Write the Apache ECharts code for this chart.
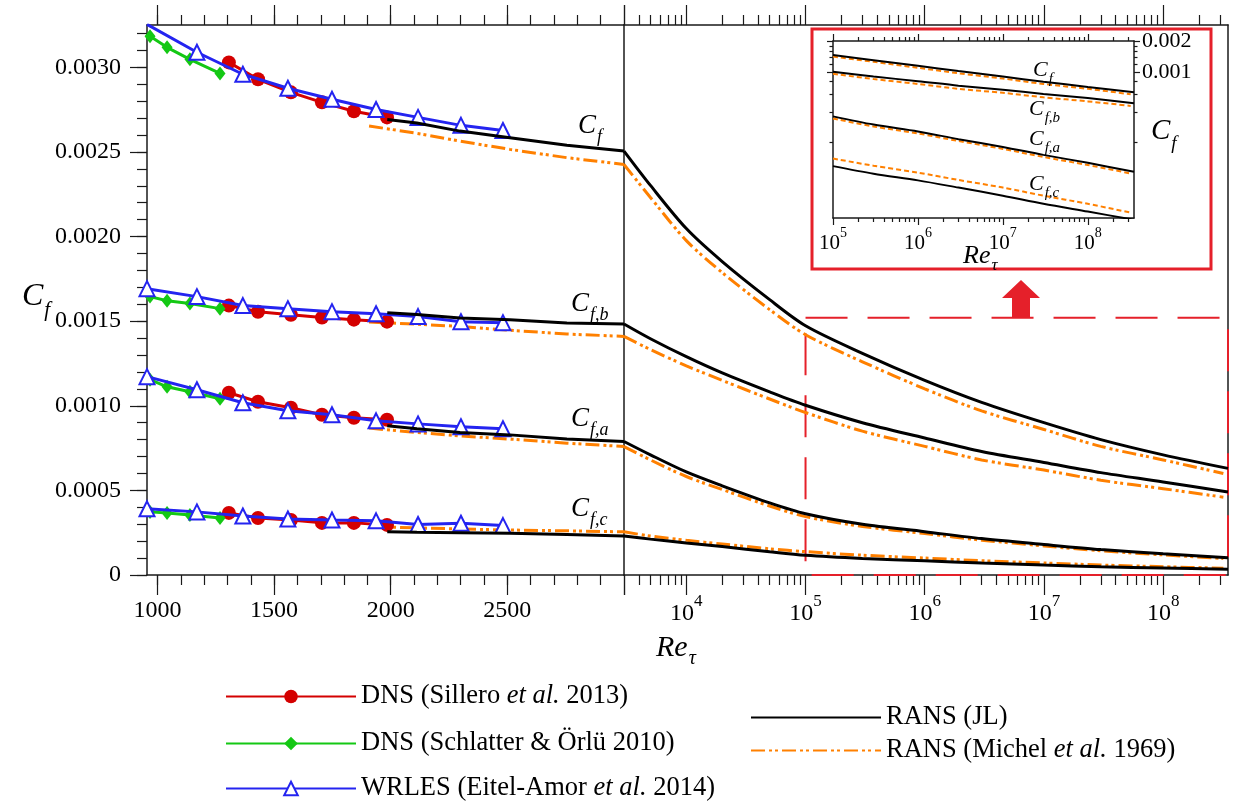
<!DOCTYPE html>
<html><head><meta charset="utf-8">
<script src="https://cdn.jsdelivr.net/npm/echarts@6/dist/echarts.min.js"></script>
<style>html,body{margin:0;padding:0;background:#fff}#c{width:1236px;height:801px}</style>
</head><body><div id="c"></div>
<script>
// ---------------- DATA ----------------
// DNS Sillero et al. 2013
const reSillero = [1306, 1431, 1572, 1705, 1842, 1984];
const sillCf  = [0.003029, 0.002929, 0.002852, 0.002793, 0.002740, 0.002704];
const sillCfb = [0.001592, 0.001556, 0.001538, 0.001521, 0.001509, 0.001497];
const sillCfa = [0.001077, 0.001024, 0.000988, 0.000947, 0.000929, 0.000917];
const sillCfc = [0.000367, 0.000337, 0.000325, 0.000308, 0.000308, 0.000296];
// DNS Schlatter & Örlü 2010
const reSchlatter = [968, 1041, 1139, 1268];
const schCf  = [0.003183, 0.003118, 0.003047, 0.002964];
const schCfb = [0.001645, 0.001621, 0.001604, 0.001574];
const schCfa = [0.001154, 0.001112, 0.001083, 0.001041];
const schCfc = [0.000373, 0.000367, 0.000355, 0.000337];
// WRLES Eitel-Amor et al. 2014
const reEitel = [955, 1169, 1366, 1559, 1748, 1937, 2117, 2301, 2481];
const eitCf  = [0.003254, 0.003089, 0.002959, 0.002876, 0.002811, 0.002751, 0.002704, 0.002657, 0.002627];
const eitCfb = [0.001692, 0.001645, 0.001592, 0.001574, 0.001556, 0.001544, 0.001527, 0.001497, 0.001491];
const eitCfa = [0.001172, 0.001095, 0.001018, 0.000970, 0.000947, 0.000911, 0.000893, 0.000876, 0.000864];
const eitCfc = [0.000391, 0.000373, 0.000349, 0.000331, 0.000325, 0.000320, 0.000298, 0.000306, 0.000292];
// RANS (JL), linear part
const reJLLeft = [1985, 2112, 2297, 2511, 2755, 3000];
const jlCfL  = [0.002691, 0.002671, 0.002623, 0.002584, 0.002540, 0.002505];
const jlCfbL = [0.001549, 0.001540, 0.001519, 0.001509, 0.001489, 0.001483];
const jlCfaL = [0.000882, 0.000864, 0.000842, 0.000828, 0.000803, 0.000789];
const jlCfcL = [0.000256, 0.000253, 0.000250, 0.000247, 0.000240, 0.000231];
// RANS (Michel et al. 1969), linear part
const reMiLeft = [1907, 2112, 2297, 2511, 2755, 3000];
const miCfL  = [0.002653, 0.002610, 0.002564, 0.002515, 0.002466, 0.002426];
const miCfbL = [0.001495, 0.001482, 0.001469, 0.001446, 0.001424, 0.001410];
const miCfaL = [0.000868, 0.000842, 0.000822, 0.000803, 0.000779, 0.000759];
const miCfcL = [0.000286, 0.000278, 0.000272, 0.000266, 0.000261, 0.000255];
// RANS (JL), log part
const reJLRight = [3000, 5000, 1e4, 2e4, 5e4, 1e5, 3e5, 1e6, 3e6, 1e7, 3e7, 1e8, 3.5e8];
const jlCfR  = [0.002505, 0.002302, 0.002047, 0.001852, 0.001627, 0.001473, 0.00131, 0.00115, 0.00102, 0.00090, 0.00080, 0.00071, 0.00063];
const jlCfbR = [0.001483, 0.001396, 0.00129, 0.001194, 0.001082, 0.001003, 0.00090, 0.00081, 0.00073, 0.000665, 0.000605, 0.00055, 0.00049];
const jlCfaR = [0.000789, 0.00071, 0.000609, 0.000527, 0.000426, 0.000362, 0.000300, 0.000256, 0.000215, 0.000180, 0.000150, 0.000125, 0.000102];
const jlCfcR = [0.000231, 0.000212, 0.000189, 0.000168, 0.000137, 0.000116, 0.0000975, 0.0000837, 0.000071, 0.000059, 0.000049, 0.000041, 0.000034];
// RANS (Michel et al. 1969), log part
const reMiRight = [3000, 5000, 1e4, 2e4, 5e4, 1e5, 3e5, 1e6, 3e6, 1e7, 3e7, 1e8, 3.2e8];
const miCfR  = [0.002426, 0.002231, 0.001976, 0.001787, 0.001568, 0.00142, 0.00126, 0.00110, 0.00097, 0.00086, 0.00076, 0.00068, 0.00060];
const miCfbR = [0.001410, 0.001332, 0.001236, 0.00115, 0.00104, 0.00096, 0.00085, 0.00076, 0.00068, 0.00062, 0.00056, 0.00051, 0.00046];
const miCfaR = [0.000759, 0.00068, 0.000582, 0.000505, 0.000408, 0.000345, 0.000287, 0.000245, 0.000206, 0.000172, 0.000143, 0.000119, 0.000098];
const miCfcR = [0.000255, 0.00023, 0.000205, 0.000183, 0.000155, 0.000138, 0.000117, 0.000100, 0.0000845, 0.000071, 0.000059, 0.000049, 0.000040];

// axis ticks / labels
const yTicks = [0, 0.0005, 0.0010, 0.0015, 0.0020, 0.0025, 0.0030];
const xLinLabels = [1000, 1500, 2000, 2500];
const xLinMajor = [1000, 1500, 2000, 2500, 3000];
const logDecades = [4, 5, 6, 7, 8];
const insetDecades = [5, 6, 7, 8];
const insetYLabels = [0.001, 0.002];
const curveNames = ['f', 'f,b', 'f,a', 'f,c'];

const N_SILL = 'DNS (Sillero et al. 2013)';
const N_SCH = 'DNS (Schlatter & Örlü 2010)';
const N_EIT = 'WRLES (Eitel-Amor et al. 2014)';
const N_JL = 'RANS (JL)';
const N_MI = 'RANS (Michel et al. 1969)';

// ---------------- LAYOUT / STYLE ----------------
const FONT = "'Liberation Serif','Times New Roman',serif";
const AX = '#1a1a1a';
const RED = '#d40000', GREEN = '#14c814', BLUE = '#2424f0', ORANGE = '#ff8000';
const BOXRED = '#e5202a';
const DASHDOT = [14, 4, 3, 3, 3, 4];

const X_MIN = 955, X_BREAK = 3000, X_MAX = 3.5e8;
const Y_MIN = 0, Y_MAX = 0.00325;
const IX_MIN = 1e5, IX_MAX = 3.5e8, IY_MIN = 3.54e-5, IY_MAX = 0.00203;
const L10 = Math.log10;

function range(a, b, s) { const r = []; for (let v = a; v <= b + 1e-9; v += s) r.push(+v.toFixed(10)); return r; }
function logMinor(d0, d1) { const r = []; for (let d = d0; d <= d1; d++) for (let k = 2; k <= 9; k++) r.push(L10(k * Math.pow(10, d))); return r; }
function pts(xs, ys) { return xs.map((x, i) => [x, ys[i]]); }

const supRich = {
  b: { fontSize: 24, fontFamily: FONT, color: '#000', padding: [9, 0, 0, 0] },
  s: { fontSize: 17, fontFamily: FONT, color: '#000', verticalAlign: 'top' }
};
const supRichSmall = {
  b: { fontSize: 21, fontFamily: FONT, color: '#000', padding: [7, 0, 0, 0] },
  s: { fontSize: 14, fontFamily: FONT, color: '#000', verticalAlign: 'top' }
};

function deco(dim, o) {
  return {
    type: 'value', gridIndex: o.g, position: o.pos, min: o.min, max: o.max,
    axisLine: { show: !!o.line, onZero: false, lineStyle: { color: AX, width: 1.5 } },
    axisTick: o.ticks ? { show: true, customValues: o.ticks, length: o.len, inside: false, lineStyle: { color: AX, width: 1.2 } } : { show: false },
    axisLabel: o.labels ? { show: true, customValues: o.labels, formatter: o.fmt, margin: o.margin, color: '#000', fontFamily: FONT, fontSize: o.fs || 24, rich: o.rich } : { show: false },
    splitLine: { show: false }
  };
}

const lMin = L10(X_BREAK), lMax = L10(X_MAX);
const iMin = L10(IX_MIN), iMax = L10(IX_MAX);
const iyMin = L10(IY_MIN), iyMax = L10(IY_MAX);

const xAxis = [
  // grid 0 (linear)
  deco('x', { g: 0, pos: 'bottom', min: X_MIN, max: X_BREAK, line: true, ticks: xLinMajor, len: 20, labels: xLinLabels, fmt: v => String(v), margin: 24 }),
  deco('x', { g: 0, pos: 'bottom', min: X_MIN, max: X_BREAK, ticks: range(1000, 2900, 100), len: 10 }),
  deco('x', { g: 0, pos: 'top', min: X_MIN, max: X_BREAK, line: true, ticks: xLinMajor, len: 20 }),
  deco('x', { g: 0, pos: 'top', min: X_MIN, max: X_BREAK, ticks: range(1000, 2900, 100), len: 10 }),
  // grid 1 (log) data axis
  { type: 'log', gridIndex: 1, min: X_BREAK, max: X_MAX, show: false },
  deco('x', { g: 1, pos: 'bottom', min: lMin, max: lMax, line: true, ticks: [lMin].concat(logDecades), len: 20, labels: logDecades, fmt: v => '{b|10}{s|' + Math.round(v) + '}', rich: supRich, margin: 18 }),
  deco('x', { g: 1, pos: 'bottom', min: lMin, max: lMax, ticks: logMinor(3, 8).filter(v => v > lMin + 1e-9 && v <= lMax), len: 10 }),
  deco('x', { g: 1, pos: 'top', min: lMin, max: lMax, line: true, ticks: [lMin].concat(logDecades), len: 20 }),
  deco('x', { g: 1, pos: 'top', min: lMin, max: lMax, ticks: logMinor(3, 8).filter(v => v > lMin + 1e-9 && v <= lMax), len: 10 }),
  // grid 2 (inset) data axis
  { type: 'log', gridIndex: 2, min: IX_MIN, max: IX_MAX, show: false },
  deco('x', { g: 2, pos: 'bottom', min: iMin, max: iMax, line: true, ticks: insetDecades, len: 7, labels: insetDecades, fmt: v => '{b|10}{s|' + Math.round(v) + '}', rich: supRichSmall, margin: 8, fs: 21 }),
  deco('x', { g: 2, pos: 'bottom', min: iMin, max: iMax, ticks: logMinor(5, 8).filter(v => v <= iMax), len: 4 }),
  deco('x', { g: 2, pos: 'top', min: iMin, max: iMax, line: true, ticks: insetDecades, len: 7 }),
  deco('x', { g: 2, pos: 'top', min: iMin, max: iMax, ticks: logMinor(5, 8).filter(v => v <= iMax), len: 4 })
];

const insetYMinor = [0.0002, 0.0004, 0.0006, 0.0008, 0.0012, 0.0014, 0.0016, 0.0018].map(L10);
const insetYMajor = insetYLabels.map(L10);

const yAxis = [
  deco('y', { g: 0, pos: 'left', min: Y_MIN, max: Y_MAX, line: true, ticks: yTicks, len: 17, labels: yTicks, fmt: v => v === 0 ? '0' : v.toFixed(4), margin: 26 }),
  deco('y', { g: 0, pos: 'left', min: Y_MIN, max: Y_MAX, ticks: range(0, 0.0032, 0.0001), len: 10 }),
  deco('y', { g: 1, pos: 'left', min: Y_MIN, max: Y_MAX, line: true }),
  deco('y', { g: 1, pos: 'right', min: Y_MIN, max: Y_MAX, line: true }),
  { type: 'log', gridIndex: 2, min: IY_MIN, max: IY_MAX, show: false },
  deco('y', { g: 2, pos: 'left', min: iyMin, max: iyMax, line: true, ticks: insetYMajor, len: 6 }),
  deco('y', { g: 2, pos: 'left', min: iyMin, max: iyMax, ticks: insetYMinor, len: 3.5 }),
  deco('y', { g: 2, pos: 'right', min: iyMin, max: iyMax, line: true, ticks: insetYMajor, len: 6, labels: insetYMajor, fmt: v => Math.pow(10, v).toFixed(3), margin: 8, fs: 22 }),
  deco('y', { g: 2, pos: 'right', min: iyMin, max: iyMax, ticks: insetYMinor, len: 3.5 })
];

const groups = [
  { sill: sillCf, sch: schCf, eit: eitCf, jlL: jlCfL, miL: miCfL, jlR: jlCfR, miR: miCfR },
  { sill: sillCfb, sch: schCfb, eit: eitCfb, jlL: jlCfbL, miL: miCfbL, jlR: jlCfbR, miR: miCfbR },
  { sill: sillCfa, sch: schCfa, eit: eitCfa, jlL: jlCfaL, miL: miCfaL, jlR: jlCfaR, miR: miCfaR },
  { sill: sillCfc, sch: schCfc, eit: eitCfc, jlL: jlCfcL, miL: miCfcL, jlR: jlCfcR, miR: miCfcR }
];

const series = [];
groups.forEach((g, gi) => {
  const mi = (xi, yi, data, w, dash, smooth) => ({ type: 'line', name: N_MI, xAxisIndex: xi, yAxisIndex: yi, data, symbol: 'none', smooth: smooth || false, lineStyle: { color: ORANGE, width: w, type: dash }, itemStyle: { color: ORANGE }, z: 2 });
  const jl = (xi, yi, data, w, smooth) => ({ type: 'line', name: N_JL, xAxisIndex: xi, yAxisIndex: yi, data, symbol: 'none', smooth: smooth || false, lineStyle: { color: '#000', width: w }, itemStyle: { color: '#000' }, z: 6 });
  series.push(mi(0, 0, pts(reMiLeft, g.miL), 3, DASHDOT));
  series.push({ type: 'line', name: N_SILL, xAxisIndex: 0, yAxisIndex: 0, data: pts(reSillero, g.sill), symbol: 'circle', symbolSize: 14, lineStyle: { color: RED, width: 3 }, itemStyle: { color: RED }, z: 3 });
  series.push({ type: 'line', name: N_SCH, xAxisIndex: 0, yAxisIndex: 0, data: pts(reSchlatter, g.sch), symbol: 'diamond', symbolSize: [11, 14], lineStyle: { color: GREEN, width: 3 }, itemStyle: { color: GREEN }, z: 4 });
  series.push({ type: 'line', name: N_EIT, xAxisIndex: 0, yAxisIndex: 0, data: pts(reEitel, g.eit), symbol: 'triangle', symbolSize: 15, lineStyle: { color: BLUE, width: 3 }, itemStyle: { color: '#fff', borderColor: BLUE, borderWidth: 2 }, z: 5 });
  series.push(jl(0, 0, pts(reJLLeft, g.jlL), 3));
  series.push(mi(4, 2, pts(reMiRight, g.miR), 3, DASHDOT, 0.3));
  const jlR = jl(4, 2, pts(reJLRight, g.jlR), 3, 0.3);
  if (gi === 0) {
    jlR.markArea = { silent: true, label: { show: false },
      itemStyle: { color: 'rgba(0,0,0,0)', borderColor: BOXRED, borderWidth: 2, borderType: [42, 20] },
      data: [[{ coord: [1e5, 0.00152] }, { coord: [X_MAX, 0] }]] };
  }
  series.push(jlR);
  series.push(mi(9, 4, pts(reMiRight, g.miR).filter(p => p[0] >= IX_MIN), 2, [5, 3], 0.3));
  series.push(jl(9, 4, pts(reJLRight, g.jlR).filter(p => p[0] >= IX_MIN), 2, 0.3));
});

// text helpers
function subText(x, y, main, sub, size, subSize, drop) {
  return { type: 'text', x, y, z: 100, style: {
    text: '{c|' + main + '}{s|' + sub + '}', fill: '#000', align: 'left', verticalAlign: 'top',
    rich: {
      c: { fontSize: size, fontStyle: 'italic', fontFamily: FONT, fill: '#000', padding: [0, 1, drop, 0] },
      s: { fontSize: subSize, fontStyle: 'italic', fontFamily: FONT, fill: '#000', verticalAlign: 'bottom' }
    } } };
}

const graphic = [
  { type: 'rect', z: 50, shape: { x: 812, y: 29, width: 399, height: 240 }, style: { fill: null, stroke: BOXRED, lineWidth: 3 } },
  { type: 'polygon', z: 50, shape: { points: [[1021, 280], [1040, 298], [1030, 298], [1030, 318], [1012, 318], [1012, 298], [1002, 298]] }, style: { fill: BOXRED } },
  subText(22, 281, 'C', curveNames[0], 32, 21, 8),
  subText(656, 633, 'Re', 'τ', 30, 20, 6),
  subText(578, 112, 'C', curveNames[0], 27, 18, 7),
  subText(571, 290, 'C', curveNames[1], 27, 18, 7),
  subText(571, 405, 'C', curveNames[2], 27, 18, 7),
  subText(571, 495, 'C', curveNames[3], 27, 18, 7),
  subText(1033, 59, 'C', curveNames[0], 22, 15, 6),
  subText(1029, 98, 'C', curveNames[1], 22, 15, 6),
  subText(1029, 128, 'C', curveNames[2], 22, 15, 6),
  subText(1029, 173, 'C', curveNames[3], 22, 15, 6),
  subText(1151, 117, 'C', curveNames[0], 29, 19, 7),
  subText(963, 243, 'Re', 'τ', 26, 17, 5)
];

const legendText = {
  fontFamily: FONT, fontSize: 26.5, color: '#000',
  rich: { i: { fontStyle: 'italic', fontFamily: FONT, fontSize: 26.5, color: '#000' } }
};
const legFmt = name => name.replace('et al.', '{i|et al.}');
const noSym = { opacity: 0 };
function leg(item, left, top) {
  return { data: [item], orient: 'horizontal', left, top, padding: 0, itemWidth: 130, itemHeight: 17, selectedMode: false, textStyle: legendText, formatter: legFmt };
}

const chart = echarts.init(document.getElementById('c'), null, { renderer: 'canvas' });
chart.setOption({
  animation: false,
  backgroundColor: '#fff',
  grid: [
    { left: 147, top: 25, width: 477, height: 550, outerBoundsMode: 'none' },
    { left: 624, top: 25, width: 604, height: 550, outerBoundsMode: 'none' },
    { left: 833, top: 41, width: 301, height: 177, outerBoundsMode: 'none' }
  ],
  legend: [
    leg(N_SILL, 225, 683),
    leg(N_SCH, 225, 730),
    leg(N_EIT, 225, 775),
    leg({ name: N_JL, itemStyle: noSym }, 750, 704),
    leg({ name: N_MI, itemStyle: noSym }, 750, 737)
  ],
  xAxis, yAxis, series, graphic
});
</script>
</body></html>
